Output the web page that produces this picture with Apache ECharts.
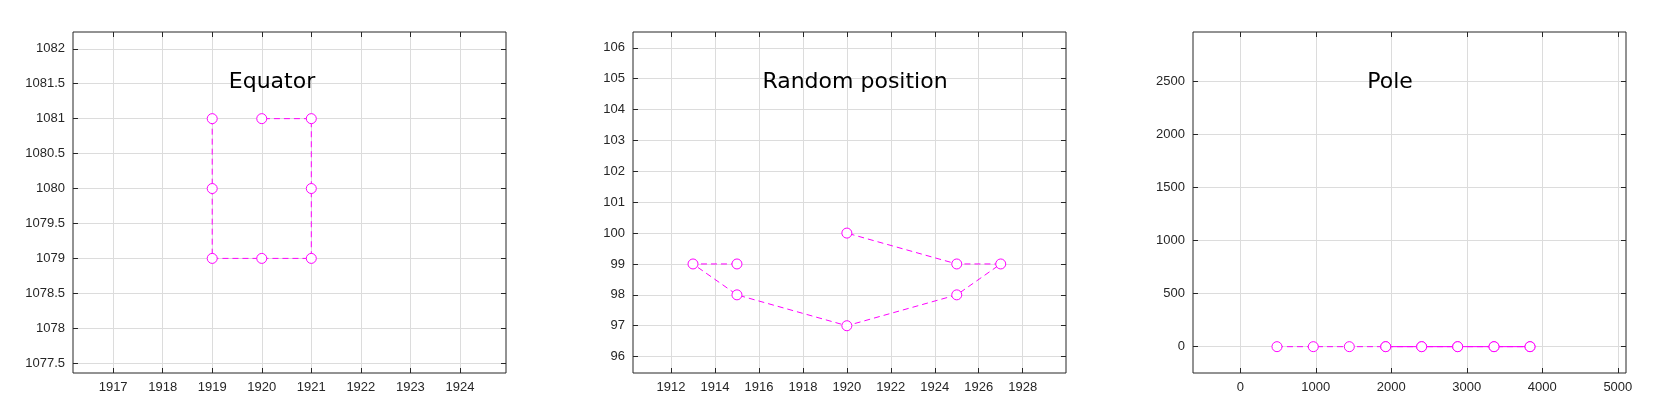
<!DOCTYPE html>
<html><head><meta charset="utf-8">
<script src="https://cdn.jsdelivr.net/npm/echarts@6/dist/echarts.min.js"></script>
<style>html,body{margin:0;padding:0;background:#fff}#c{width:1680px;height:420px}</style>
</head><body><div id="c"></div>
<script>
const titles = ['Equator', 'Random position', 'Pole'];
const eqX = [1919, 1919, 1919, 1920, 1921, 1921, 1921, 1920];
const eqY = [1081, 1080, 1079, 1079, 1079, 1080, 1081, 1081];
const rpX = [1915, 1913, 1915, 1920, 1925, 1927, 1925, 1920];
const rpY = [99, 99, 98, 97, 98, 99, 99, 100];
const poX = [486, 967, 1444, 1926, 2402, 2879, 3360, 3837];
const poY = [0, 0, 0, 0, 0, 0, 0, 0];
const eqXTicks = [1917, 1918, 1919, 1920, 1921, 1922, 1923, 1924];
const eqYTicks = [1077.5, 1078, 1078.5, 1079, 1079.5, 1080, 1080.5, 1081, 1081.5, 1082];
const rpXTicks = [1912, 1914, 1916, 1918, 1920, 1922, 1924, 1926, 1928];
const rpYTicks = [96, 97, 98, 99, 100, 101, 102, 103, 104, 105, 106];
const poXTicks = [0, 1000, 2000, 3000, 4000, 5000];
const poYTicks = [0, 500, 1000, 1500, 2000, 2500];

const ranges = [
  {x: [1916.19, 1924.93], y: [1077.36, 1082.24], xt: eqXTicks, yt: eqYTicks},
  {x: [1910.27, 1929.97], y: [95.47, 106.51], xt: rpXTicks, yt: rpYTicks},
  {x: [-626, 5108], y: [-248, 2964], xt: poXTicks, yt: poYTicks}
];
const lefts = [73, 633, 1193];
const font = {fontFamily: 'Liberation Sans', fontSize: 13, color: '#262626'};
const grid = [], xAxis = [], yAxis = [], series = [], title = [];
ranges.forEach((r, i) => {
  grid.push({left: lefts[i], width: 433, top: 32, height: 341, show: true, borderColor: '#262626', borderWidth: 1});
  const mk = (pos, vals, range, showLab, grid2) => ({
    type: 'value', gridIndex: i, position: pos, min: range[0], max: range[1],
    axisLine: {show: false, onZero: false},
    axisTick: {show: true, inside: true, length: 5, lineStyle: {color: '#262626'}, customValues: vals},
    axisLabel: Object.assign({show: showLab, customValues: vals, margin: 8, formatter: v => String(v)}, font),
    splitLine: {show: grid2, lineStyle: {color: '#dcdcdc', width: 1}}
  });
  xAxis.push(mk('bottom', r.xt, r.x, true, true));
  xAxis.push(mk('top', r.xt, r.x, false, false));
  yAxis.push(mk('left', r.yt, r.y, true, true));
  yAxis.push(mk('right', r.yt, r.y, false, false));
});
const centers = [267, 850, 1385];
titles.forEach((t, i) => title.push({text: t, left: centers[i], top: 66, textAlign: 'center',
  textStyle: {fontFamily: 'DejaVu Sans', fontSize: 22, fontWeight: 'normal', color: '#000'}}));
const sets = [[eqX, eqY], [rpX, rpY], [poX, poY]];
const lineSeries = (xs, ys, i, dashed) => ({
  type: 'line', xAxisIndex: i * 2, yAxisIndex: i * 2, data: xs.map((x, k) => [x, ys[k]]),
  symbol: 'circle', symbolSize: 10, showSymbol: true,
  itemStyle: {color: '#fff', borderColor: '#ff00ff', borderWidth: 1},
  lineStyle: {color: '#ff00ff', width: 1, type: dashed ? [6, 4] : 'solid'}, animation: false, z: 3
});
sets.forEach((s, i) => series.push(lineSeries(s[0], s[1], i, true)));
series.push(Object.assign(lineSeries(poX.slice(3), poY.slice(3), 2, false), {z: 2}));
const chart = echarts.init(document.getElementById('c'));
chart.setOption({animation: false, title, grid, xAxis, yAxis, series});
</script></body></html>
